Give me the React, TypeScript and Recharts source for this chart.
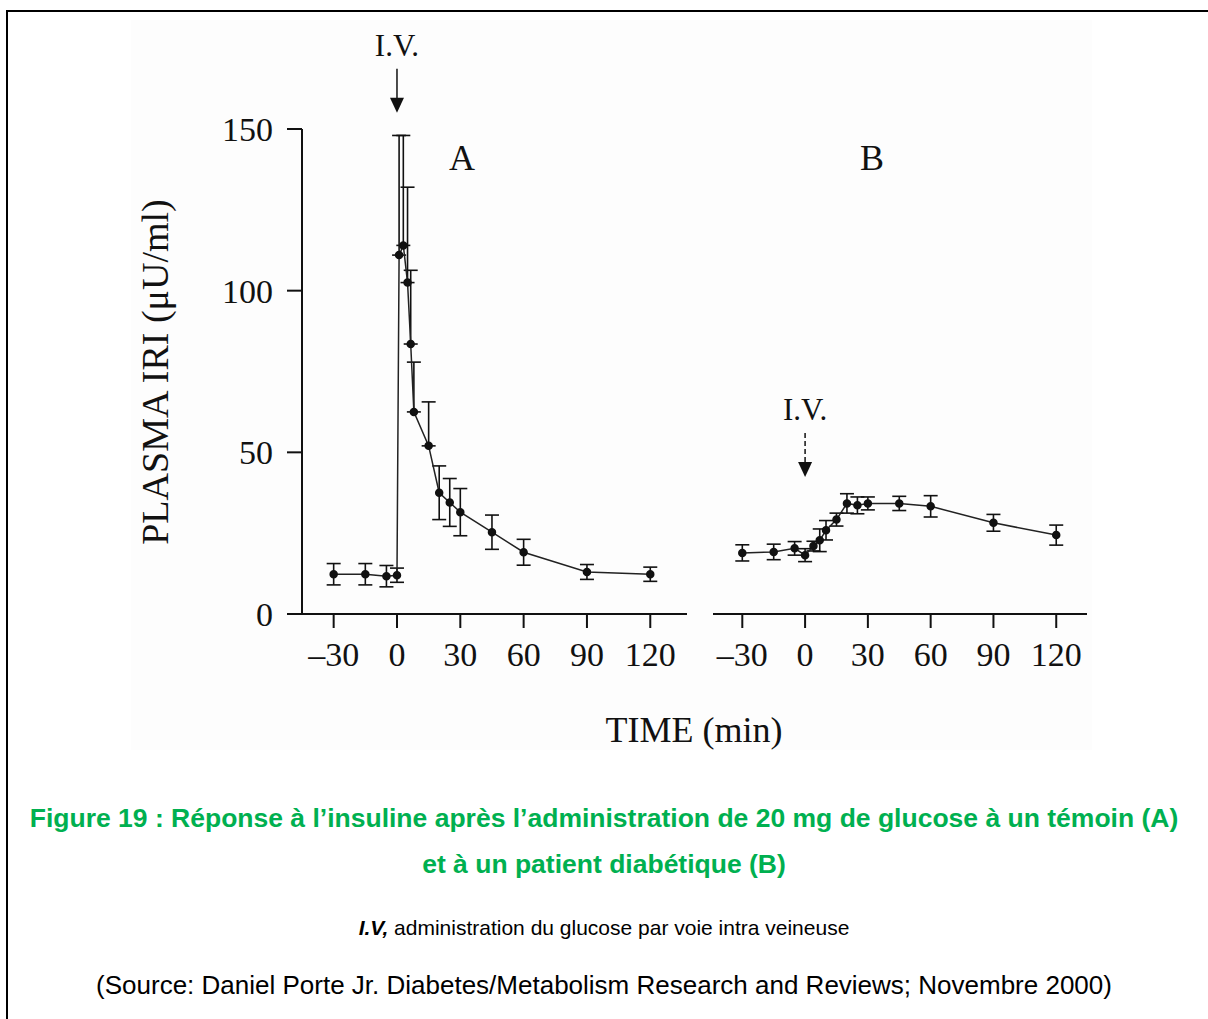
import { LineChart, Line, XAxis, YAxis, ErrorBar, ReferenceDot } from 'recharts'

// Panel A: control subject
const timeA = [-30, -15, -5, 0, 1, 3, 5, 6.5, 8, 15, 20, 25, 30, 45, 60, 90, 120]
const iriA = [12.3, 12.3, 11.7, 12, 111, 114, 102.5, 83.5, 62.5, 52, 37.5, 34.5, 31.5, 25.3, 19.1, 13, 12.3]
const errLowA = [3.3, 3.3, 3.3, 2.2, 0, 0, 0, 0, 0, 0, 8.3, 7.4, 7.3, 5.3, 4, 2.3, 2.2]
const errHighA = [3.3, 3.3, 3.3, 2.2, 37, 34, 29.5, 22.8, 15.4, 13.6, 8.3, 7.4, 7.3, 5.3, 4, 2.3, 2.2]

// Panel B: diabetic patient
const timeB = [-30, -15, -5, 0, 4, 7, 10, 15, 20, 25, 30, 45, 60, 90, 120]
const iriB = [18.9, 19.2, 20.3, 18.2, 21, 22.8, 25.9, 29.2, 34.2, 33.6, 34.2, 34.2, 33.3, 28.2, 24.4]
const errB = [2.5, 2.4, 2.1, 2, 1.5, 3.5, 3, 2, 3, 2.6, 2, 2.2, 3.3, 2.6, 3.1]

const xTicks = [-30, 0, 30, 60, 90, 120]
const yTicks = [0, 50, 100, 150]

const rowsA = timeA.map((t, i) => ({ t, iri: iriA[i], err: [errLowA[i], errHighA[i]] }))
const rowsB = timeB.map((t, i) => ({ t, iri: iriB[i], err: errB[i] }))

const serif = '"Liberation Serif", "Times New Roman", serif'
const sans = '"Liberation Sans", Arial, sans-serif'
const ink = '#111'
const tickStyle = { fill: ink, fontSize: 34, fontFamily: serif }

const fmt = (v: number) => (v < 0 ? '\u2013' + Math.abs(v) : String(v))

const IvArrow = ({ cx, cy, dashed }: any) => (
  <g>
    <text x={cx} y={cy - 57} textAnchor="middle" fontFamily={serif} fontSize={31} fill={ink}>I.V.</text>
    <line x1={cx} y1={cy - 44} x2={cx} y2={cy - 14} stroke={ink} strokeWidth={1.5}
      strokeDasharray={dashed ? '5 3' : undefined} />
    <polygon points={`${cx - 7},${cy - 15} ${cx + 7},${cy - 15} ${cx},${cy}`} fill={ink} />
  </g>
)

const abs = (left: number, top: number, extra: any = {}) => ({ position: 'absolute' as const, left, top, ...extra })

export default function App() {
  return (
    <div style={abs(0, 0, { width: 1208, height: 1019, background: '#fff', overflow: 'hidden' })}>
      <div style={abs(6, 10, { width: 1220, height: 1030, borderLeft: '2px solid #000', borderTop: '2px solid #000' })} />
      <div style={abs(131, 20, { width: 961, height: 730, background: '#fdfdfd' })} />

      <div style={abs(0, 0)}>
        <LineChart width={700} height={700} data={rowsA} margin={{ top: 129, right: 13, bottom: 26, left: 0 }}>
          <XAxis dataKey="t" type="number" domain={[-45, 137.4]} ticks={xTicks} tickFormatter={fmt}
            allowDataOverflow tickSize={14} tickMargin={14} height={60} stroke={ink} strokeWidth={2} tick={tickStyle} />
          <YAxis type="number" domain={[0, 150]} ticks={yTicks} width={302} tickSize={15} tickMargin={14}
            stroke={ink} strokeWidth={2} tick={tickStyle} />
          <Line dataKey="iri" stroke="#222" strokeWidth={1.5} isAnimationActive={false}
            dot={{ r: 3.5, fill: ink, stroke: ink }}>
            <ErrorBar dataKey="err" width={7} stroke={ink} strokeWidth={1.6} direction="y" />
          </Line>
          <ReferenceDot x={0} y={155} ifOverflow="visible" shape={(p: any) => <IvArrow {...p} />} />
        </LineChart>
      </div>

      <div style={abs(700, 0)}>
        <LineChart width={420} height={700} data={rowsB} margin={{ top: 129, right: 33, bottom: 26, left: 13 }}>
          <XAxis dataKey="t" type="number" domain={[-44, 134.7]} ticks={xTicks} tickFormatter={fmt}
            allowDataOverflow tickSize={14} tickMargin={14} height={60} stroke={ink} strokeWidth={2} tick={tickStyle} />
          <YAxis hide type="number" domain={[0, 150]} />
          <Line dataKey="iri" stroke="#222" strokeWidth={1.5} isAnimationActive={false}
            dot={{ r: 3.5, fill: ink, stroke: ink }}>
            <ErrorBar dataKey="err" width={7} stroke={ink} strokeWidth={1.6} direction="y" />
          </Line>
          <ReferenceDot x={0} y={42.4} ifOverflow="visible" shape={(p: any) => <IvArrow {...p} dashed />} />
        </LineChart>
      </div>

      <div style={abs(-45, 352, { width: 400, height: 40, lineHeight: '40px', textAlign: 'center', transform: 'rotate(-90deg)', fontFamily: serif, fontSize: 38, color: ink })}>
        PLASMA IRI (μU/ml)
      </div>
      <div style={abs(412, 136, { width: 100, textAlign: 'center', fontFamily: serif, fontSize: 36, color: ink, lineHeight: '44px' })}>A</div>
      <div style={abs(822, 136, { width: 100, textAlign: 'center', fontFamily: serif, fontSize: 36, color: ink, lineHeight: '44px' })}>B</div>
      <div style={abs(494, 708, { width: 400, textAlign: 'center', fontFamily: serif, fontSize: 36, color: ink, lineHeight: '44px' })}>TIME (min)</div>

      <div style={abs(0, 801, { width: 1208, textAlign: 'center', fontFamily: sans, fontWeight: 'bold', fontSize: 26.5, color: '#00b050', lineHeight: '34px' })}>
        Figure 19 : Réponse à l’insuline après l’administration de 20 mg de glucose à un témoin (A)
      </div>
      <div style={abs(0, 847, { width: 1208, textAlign: 'center', fontFamily: sans, fontWeight: 'bold', fontSize: 26.5, color: '#00b050', lineHeight: '34px' })}>
        et à un patient diabétique (B)
      </div>
      <div style={abs(0, 914, { width: 1208, textAlign: 'center', fontFamily: sans, fontSize: 21, color: '#000', lineHeight: '28px' })}>
        <b><i>I.V,</i></b> administration du glucose par voie intra veineuse
      </div>
      <div style={abs(0, 968, { width: 1208, textAlign: 'center', fontFamily: sans, fontSize: 26, color: '#000', lineHeight: '34px' })}>
        (Source: Daniel Porte Jr. Diabetes/Metabolism Research and Reviews; Novembre 2000)
      </div>
    </div>
  )
}
